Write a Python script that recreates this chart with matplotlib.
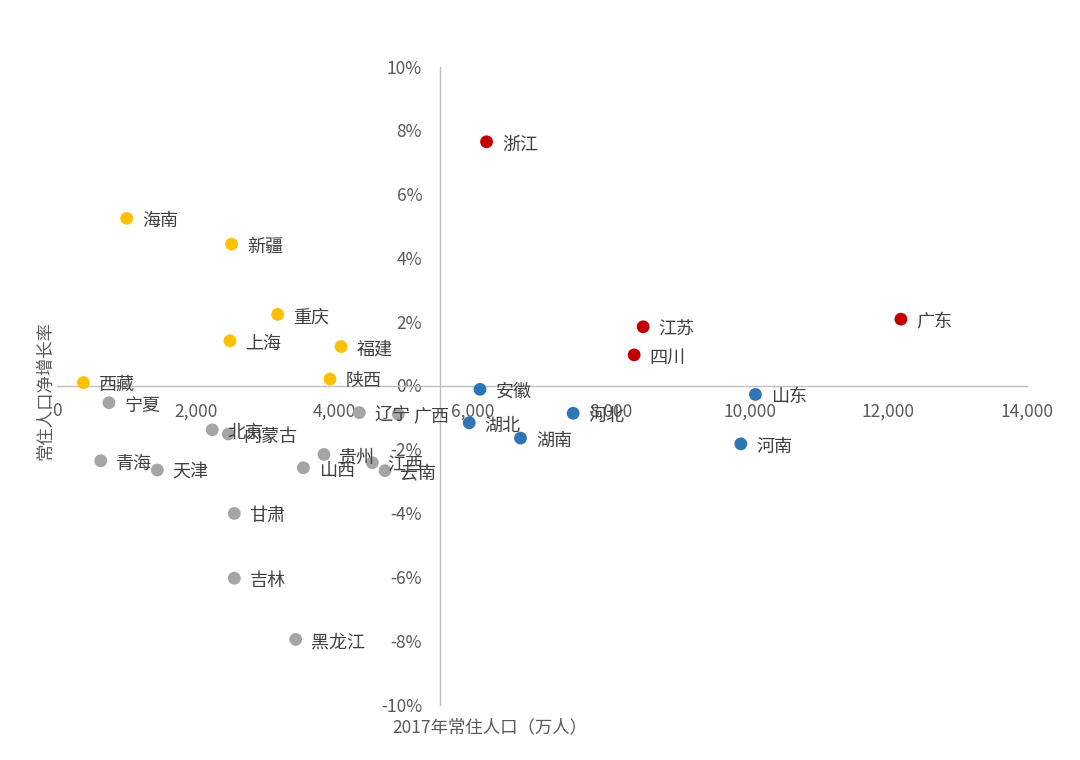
import matplotlib
matplotlib.use("Agg")
import matplotlib.pyplot as plt
from matplotlib.ticker import FuncFormatter

plt.rcParams['font.family'] = ['Noto Sans CJK SC', 'DejaVu Sans']

# 省份, 2017年常住人口(万人), 常住人口净增长率(%)
provinces = ['浙江', '江苏', '四川', '广东',
             '海南', '新疆', '重庆', '上海', '福建', '陕西', '西藏',
             '安徽', '山东', '河北', '湖北', '湖南', '河南',
             '宁夏', '辽宁', '广西', '北京', '内蒙古', '青海', '天津',
             '山西', '贵州', '江西', '云南', '甘肃', '吉林', '黑龙江']
population = [6200, 8460, 8330, 12180,
              1006, 2520, 3185, 2497, 4100, 3940, 380,
              6105, 10080, 7450, 5950, 6690, 9870,
              750, 4363, 4926, 2241, 2472, 631, 1448,
              3555, 3853, 4551, 4734, 2559, 2559, 3445]
growth = [7.64, 1.84, 0.96, 2.08,
          5.24, 4.43, 2.23, 1.40, 1.22, 0.20, 0.09,
          -0.12, -0.28, -0.87, -1.17, -1.65, -1.83,
          -0.54, -0.85, -0.90, -1.39, -1.52, -2.36, -2.65,
          -2.58, -2.16, -2.42, -2.67, -4.01, -6.04, -7.96]
groups = ['r'] * 4 + ['y'] * 7 + ['b'] * 6 + ['g'] * 14

colors = {'r': '#C00000', 'y': '#FFC000', 'b': '#2E75B6', 'g': '#A5A5A5'}

fig = plt.figure(figsize=(10.8, 7.6), dpi=100)
ax = fig.add_axes([57 / 1080, 55.5 / 760, 970 / 1080, 638 / 760])

for g in ['g', 'b', 'y', 'r']:
    xs = [p for p, k in zip(population, groups) if k == g]
    ys = [v for v, k in zip(growth, groups) if k == g]
    ax.scatter(xs, ys, s=85, color=colors[g], edgecolors='none', zorder=3)

for name, x, y in zip(provinces, population, growth):
    ax.annotate(name, (x, y), xytext=(11, -2), textcoords='offset points',
                ha='left', va='center', fontsize=13, color='#404040', zorder=4)

ax.set_xlim(0, 14000)
ax.set_ylim(-10, 10)
ax.set_xticks(range(0, 14001, 2000))
ax.set_yticks(range(-10, 11, 2))
ax.xaxis.set_major_formatter(FuncFormatter(lambda v, p: f'{int(v):,}'))
ax.yaxis.set_major_formatter(FuncFormatter(lambda v, p: f'{int(v)}%'))

for side in ['top', 'right']:
    ax.spines[side].set_visible(False)
ax.spines['left'].set_position(('data', 5530))
ax.spines['bottom'].set_position(('data', 0))
for side in ['left', 'bottom']:
    ax.spines[side].set_color('#BFBFBF')
    ax.spines[side].set_linewidth(1)
ax.tick_params(axis='both', length=0, labelsize=12.5, labelcolor='#595959')
ax.tick_params(axis='y', pad=13)
ax.tick_params(axis='x', pad=12)
ax.set_facecolor('none')

fig.text(490 / 1080, 1 - 727 / 760, '2017年常住人口（万人）', ha='center', va='center',
         fontsize=12.5, color='#595959')
fig.text(45 / 1080, 1 - 390 / 760, '常住人口净增长率', ha='center', va='center',
         rotation=90, fontsize=12.5, color='#595959')

fig.savefig('out.png', dpi=100)
